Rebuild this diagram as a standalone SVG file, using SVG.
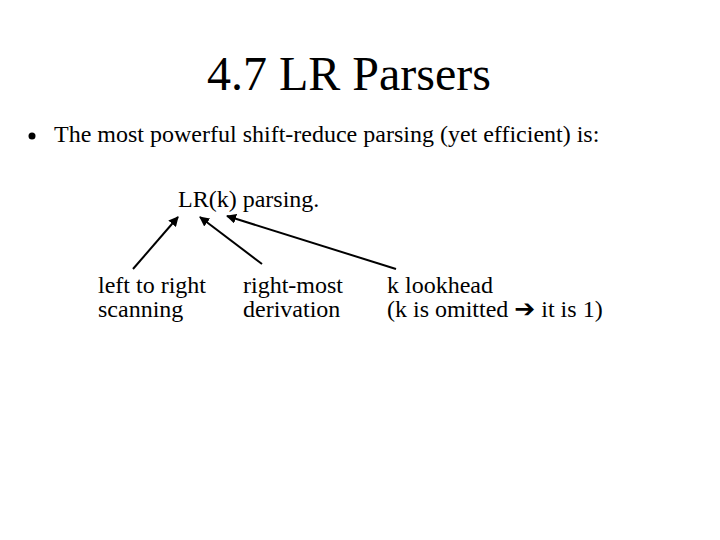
<svg xmlns="http://www.w3.org/2000/svg" width="720" height="540" viewBox="0 0 720 540">
  <style>
    .t { font-size: 48px; }
    .b { font-size: 24px; }
    .c { stroke: #000; stroke-width: 2; fill: none; }
  </style>
  <defs>
    <marker id="ah" viewBox="0 0 10 10" refX="9" refY="5" markerWidth="5" markerHeight="5" orient="auto" markerUnits="strokeWidth">
      <path d="M0,0 L10,5 L0,10 z" fill="#000"/>
    </marker>
  </defs>
  <rect width="720" height="540" fill="#fff"/>
  <g font-family="Liberation Serif, DejaVu Serif, serif" fill="#000">
    <g id="title"><text class="t" x="207" y="90">4.7 LR Parsers</text></g>
    <g id="bullet">
      <circle cx="32" cy="136" r="3.5" fill="#000"/>
      <text class="b" x="54" y="142">The most powerful shift-reduce parsing (yet efficient) is:</text>
    </g>
    <g id="lrk"><text class="b" x="178" y="207">LR(k) parsing.</text></g>
    <g id="lr"><text class="b" x="98" y="293">left to right</text><text class="b" x="98" y="317">scanning</text></g>
    <g id="rm"><text class="b" x="243" y="293">right-most</text><text class="b" x="243" y="317">derivation</text></g>
    <g id="kl"><text class="b" x="387" y="293">k lookhead</text><text class="b" x="387" y="317">(k is omitted <tspan font-family="DejaVu Sans, sans-serif" font-size="25" font-weight="bold">➔</tspan> it is 1)</text></g>
  </g>
  <g id="connectors">
    <line class="c" x1="133" y1="269" x2="178" y2="217" marker-end="url(#ah)"/>
    <line class="c" x1="262" y1="264" x2="200" y2="217" marker-end="url(#ah)"/>
    <line class="c" x1="396" y1="269" x2="227" y2="216" marker-end="url(#ah)"/>
  </g>
</svg>
